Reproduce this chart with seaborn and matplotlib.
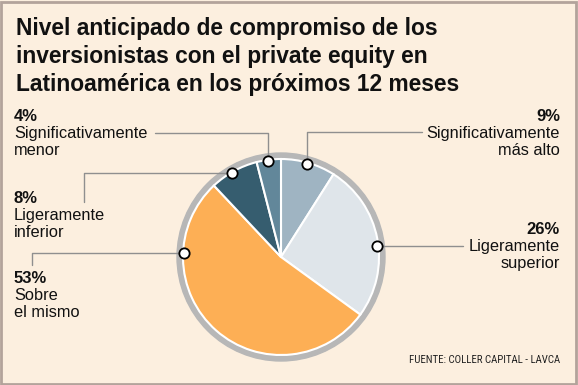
import numpy as np
import matplotlib.pyplot as plt
import seaborn as sns
from matplotlib.patches import Circle, Rectangle
from matplotlib import font_manager

# data (clockwise from 12 o'clock)
values = [9, 26, 53, 8, 4]
names = [["Significativamente", "más alto"],
         ["Ligeramente", "superior"],
         ["Sobre", "el mismo"],
         ["Ligeramente", "inferior"],
         ["Significativamente", "menor"]]
colors = ["#9fb4c2", "#dfe5ea", "#fdaf55", "#365d6f", "#62879a"]

title_lines = ["Nivel anticipado de compromiso de los",
               "inversionistas con el private equity en",
               "Latinoamérica en los próximos 12 meses"]
source = "FUENTE: COLLER CAPITAL - LAVCA"

bg = "#fcefdf"
sns.set_theme(style="white")
plt.rcParams['font.family'] = ['Liberation Sans', 'DejaVu Sans']

# look for a condensed face for the source line
names_avail = {f.name for f in font_manager.fontManager.ttflist}
narrow = [n for n in ['Liberation Sans Narrow', 'DejaVu Sans Condensed', 'Roboto Condensed', 'Open Sans Condensed'] if n in names_avail]

W, H = 578, 385
fig = plt.figure(figsize=(W / 100, H / 100), dpi=100, facecolor=bg)
ax = fig.add_axes([0, 0, 1, 1])
ax.set_facecolor(bg)

def Y(y):
    return H - y

cx, cy, r = 281, Y(257), 98

ax.add_patch(Circle((cx, cy), 104, color="#b7b7b7", zorder=0.5))
ax.pie(values, colors=colors, startangle=90, counterclock=False, radius=r,
       center=(cx, cy), wedgeprops=dict(edgecolor="white", linewidth=1.5))

ax.set_xlim(0, W)
ax.set_ylim(0, H)
ax.set_aspect("equal")
ax.axis("off")

# border
ax.add_patch(Rectangle((1, 1), W - 3, H - 3, fill=False, edgecolor="#b3a39b", linewidth=2, zorder=10))

# title
for i, line in enumerate(title_lines):
    ax.text(16, Y(35 + i * 28), line, fontsize=16.4, fontweight="bold", color="#111111", va="baseline")

# label layout: anchor angle on rim, text x, alignment, first baseline
anchor_angles = [74.5, 6.5, 177.7, 120.3, 97.8]
label_pos = [(560, 121, "right"), (560, 234, "right"), (14, 283, "left"), (14, 203, "left"), (14, 121, "left")]

pts = []
for a in anchor_angles:
    t = np.deg2rad(a)
    pts.append((cx + 97 * np.cos(t), cy + 97 * np.sin(t)))

lc = "#8f8f8f"
# leaders (elbows)
mx, my = pts[0]
ax.plot([422, mx, mx], [Y(132), Y(132), my], color=lc, lw=1, zorder=3)
mx, my = pts[1]
ax.plot([463, mx], [my, my], color=lc, lw=1, zorder=3)
mx, my = pts[2]
ax.plot([32, 32, mx], [Y(265), my, my], color=lc, lw=1, zorder=3)
mx, my = pts[3]
ax.plot([84, 84, mx], [Y(202), my, my], color=lc, lw=1, zorder=3)
mx, my = pts[4]
ax.plot([155, mx, mx], [Y(133), Y(133), my], color=lc, lw=1, zorder=3)

ax.scatter([p[0] for p in pts], [p[1] for p in pts], s=55, facecolor="white",
           edgecolor="black", linewidth=1.3, zorder=6)

for v, nm, (x, yb, ha) in zip(values, names, label_pos):
    ax.text(x, Y(yb), f"{v}%", fontsize=12, fontweight="bold", color="#111111", ha=ha, va="baseline")
    ax.text(x, Y(yb + 17), nm[0], fontsize=11.8, color="#111111", ha=ha, va="baseline")
    ax.text(x, Y(yb + 34), nm[1], fontsize=11.8, color="#111111", ha=ha, va="baseline")

if narrow:
    ax.text(560, Y(363), source, fontsize=7.8, color="#222222", ha="right", va="baseline",
            family=[narrow[0], 'DejaVu Sans'])
else:
    ax.text(560, Y(363), source, fontsize=6.5, color="#222222", ha="right", va="baseline")

fig.savefig("out.png", dpi=100, facecolor=bg)
